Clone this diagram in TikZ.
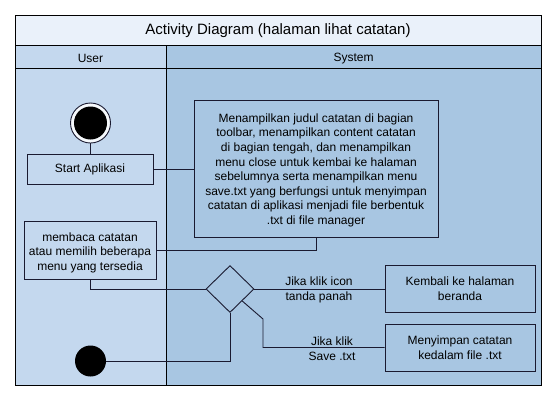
\documentclass[tikz,border=0pt]{standalone}
\usepackage{fontspec}
\setmainfont{Liberation Sans}
\usetikzlibrary{shapes.geometric,calc}
\definecolor{titlebg}{HTML}{EAF1FA}
\definecolor{userc}{HTML}{C4D8EE}
\definecolor{sysc}{HTML}{A8C6E2}
\definecolor{edge}{HTML}{1A1A30}
% #1 = downward shift: extra height 2*#1 added above the first row
\newcommand{\lowtext}[2]{\begin{tabular}{@{}c@{}}\rule{0pt}{\dimexpr 10.22pt+2\dimexpr #1\relax\relax}#2\end{tabular}}
\begin{document}
\begin{tikzpicture}[x=1pt,y=-1pt,
  every node/.style={font=\fontsize{12}{14.6}\selectfont},
  lane/.style={draw=black,line width=0.9pt},
  actbox/.style={draw=edge,line width=0.9pt,rectangle,inner sep=0pt,align=center},
  link/.style={draw=edge,line width=0.9pt},
  lbl/.style={align=center,inner sep=0pt}]
\useasboundingbox (0,0) rectangle (553,400);
\fill[white] (0,0) rectangle (553,400);
% frame
\path[lane,fill=titlebg] (15,15) rectangle (541,45);
\path[lane,fill=userc] (15,45) rectangle (166,68);
\path[lane,fill=sysc] (166,45) rectangle (541,68);
\path[lane,fill=userc] (15,68) rectangle (166,385);
\path[lane,fill=sysc] (166,68) rectangle (541,385);
\node[font=\fontsize{15}{18}\selectfont] (title) at (278,30.5) {Activity Diagram (halaman lihat catatan)};
\node (huser) at (90.5,58.5) {User};
\node (hsys) at (353.5,58.5) {System};
% nodes
\node[circle,draw=edge,line width=0.9pt,fill=white!85!userc,minimum size=40pt,inner sep=0pt] (init) at (90.5,123) {};
\fill[black] (init.center) circle (16.5);
\node[actbox,minimum width=126pt,minimum height=30pt] (start) at (90,169) {Start Aplikasi};
\node[actbox,minimum width=244pt,minimum height=137pt] (show) at (316,168.5) {\lowtext{2pt}{Menampilkan judul catatan di bagian\\toolbar, menampilkan content catatan\\di bagian tengah, dan menampilkan\\menu close untuk kembai ke halaman\\sebelumnya serta menampilkan menu\\save.txt yang berfungsi untuk menyimpan\\catatan di aplikasi menjadi file berbentuk\\.txt di file manager}};
\node[actbox,minimum width=132pt,minimum height=58pt] (read) at (90,250) {\lowtext{3pt}{membaca catatan\\atau memilih beberapa\\menu yang tersedia}};
\node[diamond,draw=edge,line width=0.9pt,minimum width=48pt,minimum height=47pt,inner sep=0pt] (dec) at (230,289) {};
\node[actbox,minimum width=150pt,minimum height=47pt] (back) at (460,288.5) {Kembali ke halaman\\beranda};
\node[actbox,minimum width=150pt,minimum height=47pt] (save) at (460,347.5) {Menyimpan catatan\\kedalam file .txt};
\node[circle,fill=black,minimum size=31pt,inner sep=0pt] (fin) at (90.5,361) {};
% connectors
\draw[link] (init.south) -- (init.south |- start.north);
\draw[link] (start.east) -- (start.east -| show.west);
\draw[link] (show.south) |- (read.east);
\draw[link] (read.south) |- (dec.west);
\draw[link] (dec.east) -- (dec.east -| back.west);
\coordinate (semid) at ($(dec.east)!0.5!(dec.south)$);
\coordinate (bend) at (263,319);
\draw[link] (semid) -- (bend) |- (save.west);
\draw[link] (dec.south) |- (fin.east);
% labels
\node[lbl] (l1) at (319,289.5) {Jika klik icon\\[0.5pt]tanda panah};
\node[lbl] (l2) at (332,348.5) {Jika klik\\[0.5pt]Save .txt};
\end{tikzpicture}
\end{document}
